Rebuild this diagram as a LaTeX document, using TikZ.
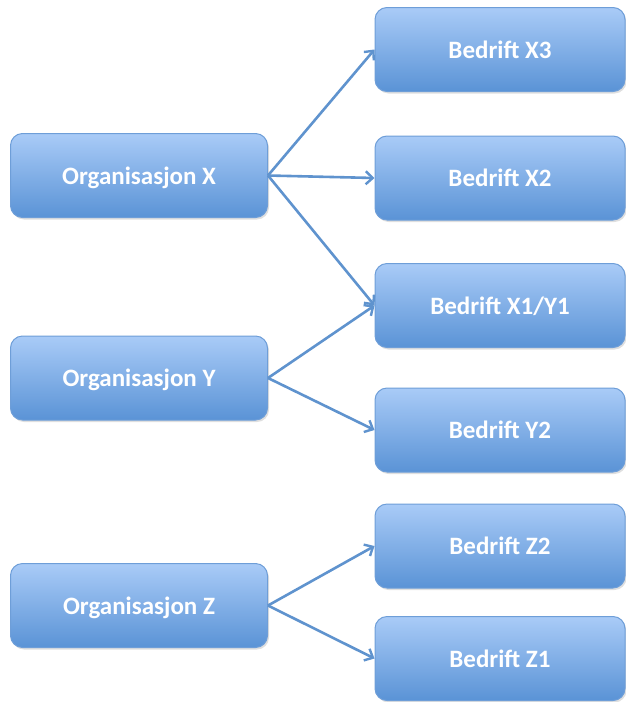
\documentclass[tikz,border=0pt]{standalone}
\usepackage{fontspec}
\setmainfont{Carlito}
\usetikzlibrary{arrows.meta,shadows}
\definecolor{boxtop}{HTML}{A9CBF7}
\definecolor{boxbot}{HTML}{5A93D6}
\definecolor{boxline}{HTML}{6E9ED8}
\definecolor{arrowc}{HTML}{5F93CE}
\tikzset{
  bbox/.style={draw=boxline, line width=1pt, rounded corners=12pt,
    top color=boxtop, bottom color=boxbot, text=white,
    font=\fontsize{25}{28}\selectfont\bfseries,
    drop shadow={shadow xshift=1.5pt, shadow yshift=-2pt, opacity=0.25, fill=gray},
    minimum height=84pt, inner sep=0pt, text depth=0pt, yshift=0pt},
  lbox/.style={bbox, minimum width=257pt},
  rbox/.style={bbox, minimum width=250pt},
  conn/.style={draw=arrowc, line width=2.6pt, -{Straight Barb[length=7pt,width=13pt,line width=2.4pt]}}
}
\begin{document}
\begin{tikzpicture}[x=1pt,y=-1pt]
\useasboundingbox (0,0) rectangle (626,702);
\node[lbox] (ox) at (139,175.5) {Organisasjon X};
\node[lbox] (oy) at (139,378) {Organisasjon Y};
\node[lbox] (oz) at (139,605.5) {Organisasjon Z};
\node[rbox] (x3) at (500,49.5) {Bedrift X3};
\node[rbox] (x2) at (500,178) {Bedrift X2};
\node[rbox] (x1) at (500,305.5) {Bedrift X1/Y1};
\node[rbox] (y2) at (500,430) {Bedrift Y2};
\node[rbox] (z2) at (500,546) {Bedrift Z2};
\node[rbox] (z1) at (500,658.5) {Bedrift Z1};
\draw[conn] (ox.east) -- (x3.west);
\draw[conn] (ox.east) -- (x2.west);
\draw[conn] (ox.east) -- (x1.west);
\draw[conn] (oy.east) -- (x1.west);
\draw[conn] (oy.east) -- (y2.west);
\draw[conn] (oz.east) -- (z2.west);
\draw[conn] (oz.east) -- (z1.west);
\end{tikzpicture}
\end{document}
